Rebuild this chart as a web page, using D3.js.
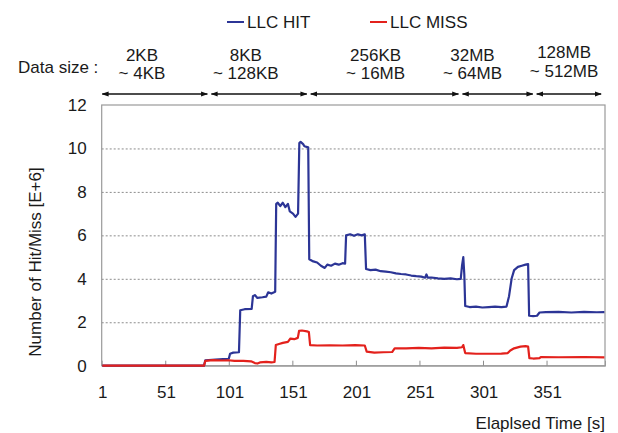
<!DOCTYPE html>
<html>
<head>
<meta charset="utf-8">
<script src="https://cdn.jsdelivr.net/npm/d3@7"></script>
<style>
  html, body { margin: 0; padding: 0; background: #fff; }
  svg { display: block; font-family: "Liberation Sans", Arial, sans-serif; }
</style>
</head>
<body>
<svg id="chart" width="618" height="433"></svg>
<script>
// ---------------- data ----------------
const seriesNames = ["LLC HIT", "LLC MISS"];
const xTickLabels = [1, 51, 101, 151, 201, 251, 301, 351];
const yTickLabels = [0, 2, 4, 6, 8, 10, 12];

// LLC HIT samples: [elapsed time, value (E+6)]
const hitSeries = [
  [1,0],[81,0],[82,0.25],[90,0.28],[96,0.3],[100.5,0.32],[101.5,0.55],[104,0.6],[108.5,0.62],
  [109.5,2.55],[113,2.6],[118.5,2.62],[119.5,3.2],[121,3.25],[123,3.12],[127,3.15],[130,3.18],
  [131.5,3.38],[134,3.32],[137,3.4],[137.8,7.45],[139,7.5],[141,7.35],[143,7.5],[145,7.3],
  [147,7.45],[148.5,7.1],[151,7.0],[153,6.85],[155,7.0],[156,10.25],[157,10.3],[159,10.2],
  [160,10.1],[163,10.05],[163.8,4.9],[167,4.8],[170,4.75],[173,4.6],[176,4.5],[178,4.65],
  [181,4.6],[184,4.7],[187,4.65],[190,4.72],[192,4.7],[192.8,6.0],[196,6.05],[199,5.98],
  [202,6.05],[205,6.0],[207.5,6.05],[208.5,4.45],[212,4.4],[216,4.42],[220,4.35],[224,4.33],
  [228,4.3],[232,4.25],[236,4.22],[240,4.2],[244,4.15],[248,4.12],[252,4.1],[255,4.05],
  [256,4.2],[257,4.05],[260,4.06],[265,4.02],[270,4.0],[275,4.02],[280,3.98],[283,4.0],
  [284,4.6],[285,5.0],[285.8,4.2],[286.5,2.75],[290,2.7],[295,2.72],[300,2.68],[305,2.7],
  [310,2.72],[315,2.7],[319,2.72],[321,3.2],[323,4.0],[325,4.4],[328,4.55],[331,4.6],
  [334,4.65],[336,4.68],[336.8,2.3],[340,2.28],[343,2.3],[345,2.45],[350,2.47],[360,2.48],
  [370,2.45],[380,2.48],[390,2.46],[396,2.47]
];

// LLC MISS samples
const missSeries = [
  [1,0],[81,0],[82,0.22],[88,0.26],[95,0.24],[100,0.25],[105,0.22],[112,0.22],[118,0.2],
  [121,0.12],[123,0.1],[125,0.15],[130,0.18],[134,0.15],[136.5,0.17],[137.5,0.95],[140,1.0],
  [143,1.05],[147,1.1],[149,1.25],[152,1.22],[154.8,1.28],[155.8,1.6],[158,1.62],[162,1.58],
  [163.5,1.55],[164.5,0.95],[170,0.93],[180,0.94],[190,0.93],[200,0.95],[207.5,0.93],
  [209,0.65],[215,0.6],[222,0.62],[229,0.63],[231,0.8],[240,0.8],[250,0.82],[260,0.8],
  [270,0.83],[280,0.82],[284,0.85],[285,0.95],[286.5,0.58],[295,0.55],[305,0.55],[315,0.56],
  [320,0.58],[322,0.7],[325,0.8],[330,0.88],[334,0.9],[336,0.88],[337,0.35],[340,0.33],
  [345,0.35],[346,0.4],[360,0.39],[380,0.4],[396,0.38]
];

// data-size phases (elapsed time boundaries)
const phaseBounds = [1, 85.2, 163.4, 282.8, 341.2, 395];
const phaseLine1 = ["2KB", "8KB", "256KB", "32MB", "128MB"];
const phaseLine2 = ["~ 4KB", "~ 128KB", "~ 16MB", "~ 64MB", "~ 512MB"];

// ---------------- layout ----------------
const svg = d3.select("#chart");
const plot = { left: 101.7, right: 605, top: 105, bottom: 365.7 };
const x = d3.scaleLinear().domain([0.5, 396.5]).range([plot.left, plot.right]);
const y = d3.scaleLinear().domain([0, 12]).range([plot.bottom, plot.top]);
const fontSize = 17;
const textColor = "#1a1a1a";
const colors = ["#2c3596", "#e3211c"];

// gridlines
svg.append("g")
  .attr("transform", `translate(${plot.left},0)`)
  .call(d3.axisLeft(y).tickValues(yTickLabels.filter(v => v > 0 && v < 12))
        .tickSize(-(plot.right - plot.left)).tickFormat(""))
  .call(g => g.select(".domain").remove())
  .call(g => g.selectAll("line").attr("stroke", "#8c8c8c").attr("stroke-dasharray", "2,2"));

// plot frame
svg.append("rect")
  .attr("x", plot.left).attr("y", plot.top)
  .attr("width", plot.right - plot.left).attr("height", plot.bottom - plot.top)
  .attr("fill", "none").attr("stroke", "#9a9a9a").attr("stroke-width", 1.2);

// y tick labels
svg.append("g")
  .attr("transform", `translate(${plot.left},0)`)
  .call(d3.axisLeft(y).tickValues(yTickLabels).tickSize(0).tickPadding(15))
  .call(g => g.select(".domain").remove())
  .call(g => g.selectAll("text").attr("font-size", fontSize).attr("fill", textColor)
        .attr("font-family", "Liberation Sans, Arial, sans-serif"));

// x tick marks (inward, between categories)
const tickMarks = d3.range(1, 8).map(k => 0.5 + 50 * k);
svg.append("g")
  .attr("transform", `translate(0,${plot.bottom})`)
  .call(d3.axisBottom(x).tickValues(tickMarks).tickSize(-5).tickFormat(""))
  .call(g => g.select(".domain").attr("stroke", "#9a9a9a"))
  .call(g => g.selectAll("line").attr("stroke", "#8c8c8c"));

// x tick labels
svg.append("g")
  .attr("transform", `translate(0,${plot.bottom})`)
  .call(d3.axisBottom(x).tickValues(xTickLabels).tickSize(0).tickPadding(20).tickFormat(d3.format("d")))
  .call(g => g.select(".domain").remove())
  .call(g => g.selectAll("text").attr("font-size", fontSize).attr("fill", textColor)
        .attr("font-family", "Liberation Sans, Arial, sans-serif"));

// axis titles
svg.append("text")
  .attr("x", plot.right).attr("y", 423).attr("dy", "0.35em")
  .attr("text-anchor", "end").attr("font-size", fontSize).attr("fill", textColor)
  .text("Elaplsed Time [s]");
svg.append("text")
  .attr("transform", "translate(35,262) rotate(-90)")
  .attr("dy", "0.35em")
  .attr("text-anchor", "middle").attr("font-size", fontSize).attr("fill", textColor)
  .text("Number of Hit/Miss [E+6]");

// lines
const line = d3.line().x(d => x(d[0])).y(d => y(d[1]));
[hitSeries, missSeries].forEach((s, i) => {
  svg.append("path").datum(s)
    .attr("d", line).attr("fill", "none")
    .attr("stroke", colors[i]).attr("stroke-width", 2.2)
    .attr("stroke-linejoin", "round");
});

// legend
const legendPos = [[227, 22], [370, 22]];
seriesNames.forEach((name, i) => {
  const [lx, ly] = legendPos[i];
  svg.append("line").attr("x1", lx).attr("x2", lx + 17).attr("y1", ly).attr("y2", ly)
    .attr("stroke", colors[i]).attr("stroke-width", 2);
  svg.append("text").attr("x", lx + 20).attr("y", ly).attr("dy", "0.35em")
    .attr("font-size", fontSize).attr("fill", textColor).text(name);
});

// data-size annotation
svg.append("text").attr("x", 18).attr("y", 67).attr("dy", "0.35em")
  .attr("font-size", fontSize).attr("fill", textColor).text("Data size :");

const arrowY = 94;
const defs = svg.append("defs");
defs.append("marker").attr("id", "ah").attr("viewBox", "0 0 10 10")
  .attr("refX", 9).attr("refY", 5).attr("markerWidth", 7).attr("markerHeight", 7)
  .attr("markerUnits", "userSpaceOnUse").attr("orient", "auto-start-reverse")
  .append("path").attr("d", "M0,1.5 L10,5 L0,8.5 Z").attr("fill", "#111");

const labelCenters = [32.2, 113.9, 216, 292.2, 364.3];
phaseLine1.forEach((lab, i) => {
  const x0 = x(phaseBounds[i]) + (i === 0 ? 0 : 2);
  const x1 = x(phaseBounds[i + 1]) - 2;
  svg.append("line").attr("x1", x0).attr("x2", x1).attr("y1", arrowY).attr("y2", arrowY)
    .attr("stroke", "#111").attr("stroke-width", 1.5)
    .attr("marker-start", "url(#ah)").attr("marker-end", "url(#ah)");
  const cx = x(labelCenters[i]);
  svg.append("text").attr("x", cx).attr("y", i === 4 ? 52 : 55).attr("dy", "0.35em")
    .attr("text-anchor", "middle").attr("font-size", fontSize).attr("fill", textColor).text(lab);
  svg.append("text").attr("x", cx).attr("y", i === 4 ? 71 : 73).attr("dy", "0.35em")
    .attr("text-anchor", "middle").attr("font-size", fontSize).attr("fill", textColor).text(phaseLine2[i]);
});
</script>
</body>
</html>
